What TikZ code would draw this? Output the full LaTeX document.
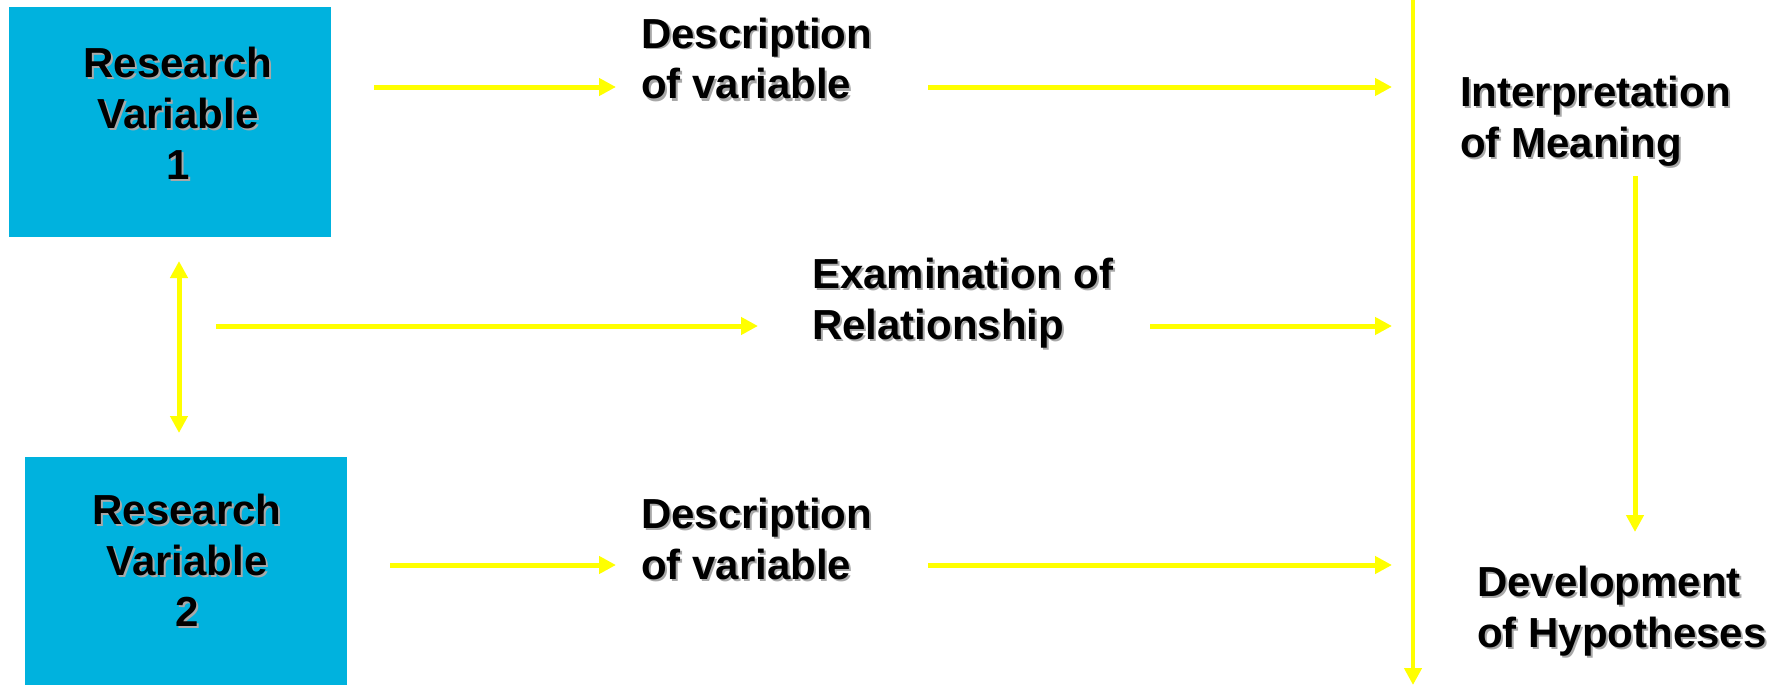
\documentclass[tikz,border=0pt]{standalone}
\usepackage{fontspec}
\setmainfont{Liberation Sans}
\usetikzlibrary{arrows.meta}
\definecolor{boxcyan}{HTML}{00B2DE}
\definecolor{arrowyellow}{HTML}{FFFF00}
\definecolor{shadowc}{HTML}{A8A8A8}
\newcommand\shd[1]{\leavevmode\rlap{\kern2pt\raisebox{-2pt}{\color{shadowc}#1}}#1}
\tikzset{
  varbox/.style={fill=boxcyan, draw=none, minimum width=322pt, minimum height=230pt, inner sep=0pt},
  boxtext/.style={align=center, inner sep=0pt, anchor=base, font=\fontsize{42}{51}\selectfont\bfseries},
  label text/.style={align=left, inner sep=0pt, anchor=base west, font=\fontsize{42}{51}\selectfont\bfseries},
  flow/.style={draw=arrowyellow, line width=5pt, -{Triangle[length=17pt,width=17pt]}},
  biflow/.style={draw=arrowyellow, line width=5pt, {Triangle[length=17pt,width=17pt]}-{Triangle[length=17pt,width=17pt]}},
}
\begin{document}
\begin{tikzpicture}[x=1pt,y=-1pt]
\useasboundingbox[fill=white] (0,0) rectangle (1785,685);
% boxes
\node[varbox] (rv1) at (170,122) {};
\node[boxtext] (rv1t) at (178,179) {\shd{Research}\\\shd{Variable}\\\shd{1}};
\node[varbox] (rv2) at (186,572) {};
\node[boxtext] (rv2t) at (187,626) {\shd{Research}\\\shd{Variable}\\\shd{2}};
% labels
\node[label text] (d1) at (641,99) {\shd{Description}\\\shd{of variable}};
\node[label text] (d2) at (641,579) {\shd{Description}\\\shd{of variable}};
\node[label text] (ex) at (812,339) {\shd{Examination of}\\\shd{Relationship}};
\node[label text] (im) at (1460,157) {\shd{Interpretation}\\\shd{of Meaning}};
\node[label text] (dh) at (1477,647) {\shd{Development}\\\shd{of Hypotheses}};
% connector end points
\coordinate (a1s) at (374,87);
\coordinate (a1e) at (616,87);
\coordinate (a2s) at (928,87);
\coordinate (a2e) at (1392,87);
\coordinate (m1s) at (216,326);
\coordinate (m1e) at (758,326);
\coordinate (m2s) at (1150,326);
\coordinate (m2e) at (1392,326);
\coordinate (b1s) at (390,565);
\coordinate (b1e) at (616,565);
\coordinate (b2s) at (928,565);
\coordinate (b2e) at (1392,565);
\coordinate (vt) at (1413,0);
\coordinate (vb) at (1413,685);
\coordinate (rt) at (1635,176);
\coordinate (rb) at (1635,532);
\coordinate (dt) at (179,261);
\coordinate (db) at (179,433);
% connectors
\draw[flow] (a1s) -- (a1e);
\draw[flow] (a2s) -- (a2e);
\draw[flow] (m1s) -- (m1e);
\draw[flow] (m2s) -- (m2e);
\draw[flow] (b1s) -- (b1e);
\draw[flow] (b2s) -- (b2e);
\draw[flow, line width=4.5pt] (vt) -- (vb);
\draw[flow] (rt) -- (rb);
\draw[biflow] (dt) -- (db);
\end{tikzpicture}
\end{document}
